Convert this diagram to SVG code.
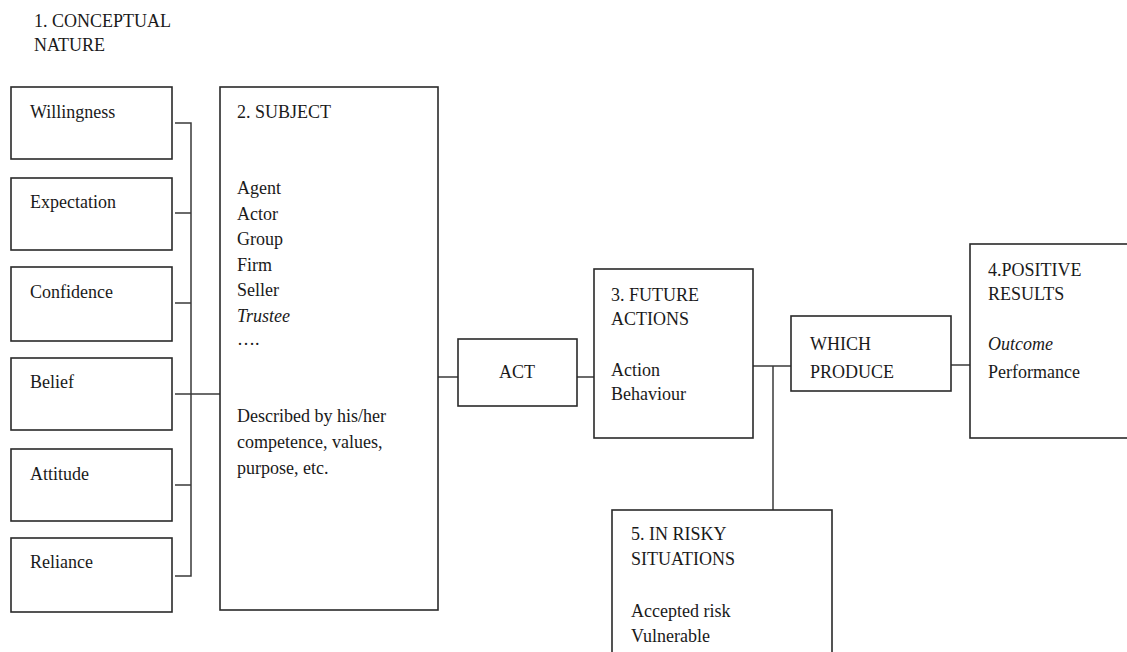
<svg xmlns="http://www.w3.org/2000/svg" width="1127" height="652" viewBox="0 0 1127 652">
<style>
.box{fill:#fff;stroke:#2a2a2a;stroke-width:1.6}
.t{font-family:"Liberation Serif","Times New Roman",serif;font-size:18px;fill:#1a1a1a}
.i{font-style:italic}
.c{fill:none;stroke:#3a3a3a;stroke-width:1.5}
</style>
<rect width="1127" height="652" fill="#fff"/>
<g id="title">
<text class="t" x="34" y="27">1. CONCEPTUAL</text>
<text class="t" x="34" y="51">NATURE</text>
</g>
<g id="connectors">
<path class="c" d="M175 123H191V576H175"/>
<path class="c" d="M175 213H191M175 303H191M175 485H191"/>
<path class="c" d="M175 394H220"/>
<path class="c" d="M438 377H458"/>
<path class="c" d="M577 377H594"/>
<path class="c" d="M753 366H791"/>
<path class="c" d="M773 366V510"/>
<path class="c" d="M951 365H970"/>
</g>
<g id="willingness"><rect class="box" x="11" y="87" width="161" height="72"/><text class="t" x="30" y="118">Willingness</text></g>
<g id="expectation"><rect class="box" x="11" y="178" width="161" height="72"/><text class="t" x="30" y="208">Expectation</text></g>
<g id="confidence"><rect class="box" x="11" y="267" width="161" height="74"/><text class="t" x="30" y="298">Confidence</text></g>
<g id="belief"><rect class="box" x="11" y="358" width="161" height="72"/><text class="t" x="30" y="388">Belief</text></g>
<g id="attitude"><rect class="box" x="11" y="449" width="161" height="72"/><text class="t" x="30" y="480">Attitude</text></g>
<g id="reliance"><rect class="box" x="11" y="538" width="161" height="74"/><text class="t" x="30" y="568">Reliance</text></g>
<g id="subject">
<rect class="box" x="220" y="87" width="218" height="523"/>
<text class="t" x="237" y="118">2. SUBJECT</text>
<text class="t" x="237" y="194">Agent</text>
<text class="t" x="237" y="219.5">Actor</text>
<text class="t" x="237" y="245">Group</text>
<text class="t" x="237" y="270.5">Firm</text>
<text class="t" x="237" y="296">Seller</text>
<text class="t i" x="237" y="321.5">Trustee</text>
<text class="t" x="237" y="345" font-size="12">….</text>
<text class="t" x="237" y="422">Described by his/her</text>
<text class="t" x="237" y="448">competence, values,</text>
<text class="t" x="237" y="474">purpose, etc.</text>
</g>
<g id="act"><rect class="box" x="458" y="339" width="119" height="67"/><text class="t" x="499" y="378">ACT</text></g>
<g id="future">
<rect class="box" x="594" y="269" width="159" height="169"/>
<text class="t" x="611" y="301">3. FUTURE</text>
<text class="t" x="611" y="325">ACTIONS</text>
<text class="t" x="611" y="376">Action</text>
<text class="t" x="611" y="400">Behaviour</text>
</g>
<g id="which">
<rect class="box" x="791" y="316" width="160" height="75"/>
<text class="t" x="810" y="350" font-size="19">WHICH</text>
<text class="t" x="810" y="378" font-size="19">PRODUCE</text>
</g>
<g id="positive">
<rect class="box" x="970" y="244" width="170" height="194"/>
<text class="t" x="988" y="276">4.POSITIVE</text>
<text class="t" x="988" y="300">RESULTS</text>
<text class="t i" x="988" y="350">Outcome</text>
<text class="t" x="988" y="378">Performance</text>
</g>
<g id="risky">
<rect class="box" x="612" y="510" width="220" height="160"/>
<text class="t" x="631" y="540">5. IN RISKY</text>
<text class="t" x="631" y="565">SITUATIONS</text>
<text class="t" x="631" y="617">Accepted risk</text>
<text class="t" x="631" y="642">Vulnerable</text>
</g>
</svg>
